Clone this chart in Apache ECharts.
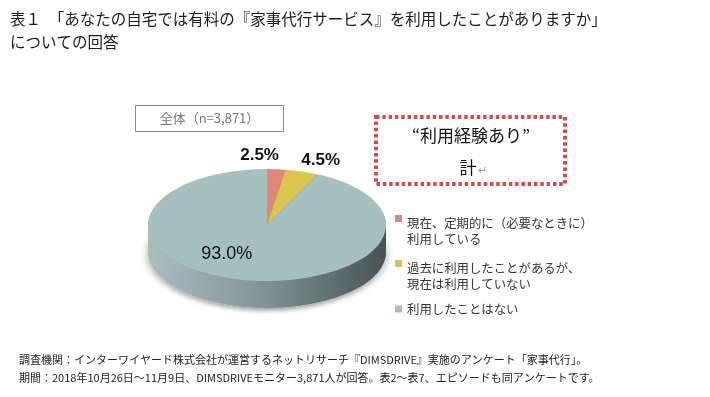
<!DOCTYPE html>
<html><head><meta charset="utf-8">
<script src="https://cdn.jsdelivr.net/npm/echarts@6/dist/echarts.min.js"></script>
<style>
html,body{margin:0;padding:0;background:#fff;}
#wrap{position:relative;width:710px;height:397px;overflow:hidden;background:#fff;}
#pie{position:absolute;left:0;top:0;width:710px;height:900px;}
#main{position:absolute;left:0;top:0;width:710px;height:397px;}
</style></head><body>
<div id="wrap"><div id="pie"></div><div id="main"></div></div>
<script>
// ---------- data ----------
const titleLines = ['表１　「あなたの自宅では有料の『家事代行サービス』を利用したことがありますか」', 'についての回答'];
const categories = ['現在、定期的に（必要なときに）\n利用している', '過去に利用したことがあるが、\n現在は利用していない', '利用したことはない'];
const values = [2.5, 4.5, 93.0];
const sampleLabel = '全体（n=3,871）';
const calloutLines = ['“利用経験あり”', '計'];
const notes = ['調査機関：インターワイヤード株式会社が運営するネットリサーチ『DIMSDRIVE』実施のアンケート「家事代行」。',
               '期間：2018年10月26日～11月9日、DIMSDRIVEモニター3,871人が回答。表2～表7、エピソードも同アンケートです。'];

// ---------- style ----------
const colors = ['#e08878', '#dcc54c', '#a6c0c0'];
const CX = 267, CY = 225, R = 119, RY = 56, DEPTH = 27;
const K = RY / R;
const JP = '"Noto Sans CJK JP", sans-serif';

const pieEl = document.getElementById('pie');
pieEl.style.transformOrigin = '0 ' + CY + 'px';
pieEl.style.transform = 'scaleY(' + K + ')';

const sideGrad = {type: 'linear', x: CX - R, y: 0, x2: CX + R, y2: 0, global: true,
  colorStops: [{offset: 0, color: '#a9bebd'}, {offset: 0.45, color: '#849897'}, {offset: 1, color: '#465353'}]};

const pieSeries = [];
for (let d = DEPTH; d >= 1; d--) {
  pieSeries.push({
    type: 'pie', silent: true, animation: false,
    center: [CX, CY + d / K], radius: [0, R], startAngle: 90,
    label: {show: false}, labelLine: {show: false},
    itemStyle: Object.assign({color: sideGrad, borderWidth: 0},
      d === DEPTH ? {shadowBlur: 8, shadowColor: 'rgba(0,0,0,0.35)', shadowOffsetY: 6} : {}),
    data: categories.map((c, i) => ({name: c, value: values[i]}))
  });
}
pieSeries.push({
  type: 'pie', silent: true, animation: false,
  center: [CX, CY], radius: [0, R], startAngle: 90,
  label: {show: false}, labelLine: {show: false},
  data: categories.map((c, i) => ({name: c, value: values[i], itemStyle: {color: colors[i], borderWidth: 0}}))
});

const pieChart = echarts.init(pieEl, null, {renderer: 'svg'});
pieChart.setOption({animation: false, series: pieSeries});

// ---------- overlay ----------
const labelShift = [[-10, -37], [44, -33], [-33, -3]];
const legendTops = [215, 260, 301];
const tallIcon = 'path://M0,0H7V7H0Z M0,32H0.01V32.01H0Z';

const chart = echarts.init(document.getElementById('main'));
chart.setOption({
  animation: false,
  legend: categories.map((c, i) => ({
    data: [{name: c, icon: c.indexOf('\n') >= 0 ? tallIcon : 'rect', itemStyle: {color: colors[i], opacity: 1}}],
    orient: 'vertical', left: 395, top: legendTops[i], padding: 0,
    itemWidth: 7, itemHeight: c.indexOf('\n') >= 0 ? 32 : 7, selectedMode: false,
    textStyle: {fontFamily: JP, fontSize: 12.4, color: '#333', lineHeight: 16}
  })),
  graphic: [
    {type: 'text', x: 10, y: 19, style: {text: titleLines[0], font: '15.5px ' + JP, fill: '#1a1a1a', verticalAlign: 'middle'}},
    {type: 'text', x: 10, y: 42, style: {text: titleLines[1], font: '15.5px ' + JP, fill: '#1a1a1a', verticalAlign: 'middle'}},
    {type: 'rect', shape: {x: 135.5, y: 105.5, width: 148, height: 26}, style: {fill: '#fff', stroke: '#8c8c8c', lineWidth: 1}},
    {type: 'text', x: 209.5, y: 118.5, style: {text: sampleLabel, font: '13px ' + JP, fill: '#777', align: 'center', verticalAlign: 'middle'}},
    {type: 'rect', shape: {x: 376, y: 117, width: 189, height: 67}, style: {fill: 'none', stroke: '#d84c4c', lineWidth: 4, lineDash: [3.5, 2.8]}},
    {type: 'text', x: 471, y: 136, style: {text: calloutLines[0], font: '17px ' + JP, fill: '#111', align: 'center', verticalAlign: 'middle'}},
    {type: 'text', x: 468, y: 168, style: {text: calloutLines[1], font: '17px ' + JP, fill: '#111', align: 'center', verticalAlign: 'middle'}},
    {type: 'text', x: 478, y: 170, style: {text: '↵', font: '11px ' + JP, fill: '#999', verticalAlign: 'middle'}},
    {type: 'text', x: 19, y: 360, style: {text: notes[0], font: '11px ' + JP, fill: '#222', verticalAlign: 'middle'}},
    {type: 'text', x: 19, y: 378, style: {text: notes[1], font: '11px ' + JP, fill: '#222', verticalAlign: 'middle'}}
  ],
  series: [{
    type: 'pie', silent: true, center: [CX, CY], radius: [0, 60], startAngle: 90,
    itemStyle: {color: 'rgba(0,0,0,0)', borderWidth: 0},
    label: {show: true, position: 'inside', color: '#111', fontFamily: '"Liberation Sans", Arial, sans-serif',
      fontSize: 17, fontWeight: 'bold', formatter: p => p.value.toFixed(1) + '%'},
    labelLine: {show: false},
    labelLayout: p => ({dx: labelShift[p.dataIndex][0], dy: labelShift[p.dataIndex][1]}),
    data: categories.map((c, i) => ({name: c, value: values[i],
      label: i === 2 ? {fontSize: 18, fontWeight: 'normal'} : {}}))
  }]
});
</script>
</body></html>
